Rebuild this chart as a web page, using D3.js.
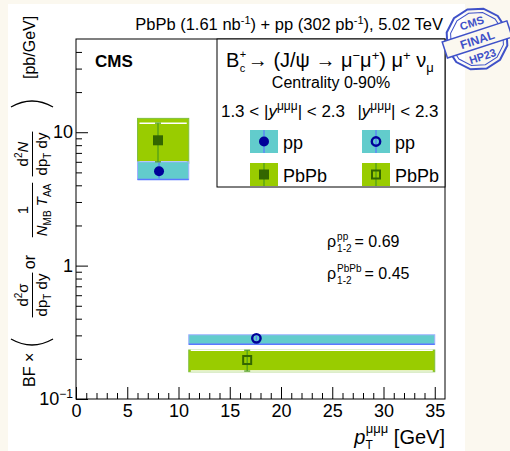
<!DOCTYPE html>
<html lang="en">
<head>
<meta charset="UTF-8"/>
<title>Bc cross section vs pT</title>
<script src="https://d3js.org/d3.v7.min.js"></script>
<style>
    body { margin: 0; background: #fbf8ef; }
    text { font-family: "Liberation Sans", Arial, Helvetica, sans-serif; fill: #000; }
</style>
</head>
<body>
<div id="chart"></div>
<script>
// data
const binLo = [6, 11];
const binHi = [11, 35];

const ppX = [8.1, 17.6];
const ppY = [5.1, 0.285];
const ppStatLo = [4.5, 0.275];
const ppStatHi = [5.9, 0.295];
const ppSysLo = [4.43, 0.257];
const ppSysHi = [6.0, 0.303];

const pbX = [8.0, 16.7];
const pbY = [8.7, 0.196];
const pbStatLo = [6.0, 0.162];
const pbStatHi = [11.7, 0.232];
const pbSysLo = [5.85, 0.160];
const pbSysHi = [12.7, 0.233];

const xTicks = [0, 5, 10, 15, 20, 25, 30, 35];
const yTicks = [0.1, 1, 10];
const rhoLabels = [["pp", "0.69"], ["PbPb", "0.45"]];

const W = 510, H = 451;
const frame = {left: 76, right: 445, top: 39, bottom: 399};

const cyan = "#62cccc", green = "#99cc00", navy = "#000099", dkGreen = "#336600";
const blueLine = "#5a78ff";

const svg = d3.select("#chart").append("svg")
    .attr("width", W).attr("height", H);

svg.append("rect").attr("width", W).attr("height", H).attr("fill", "#fbf8ef");
svg.append("rect").attr("x", 8).attr("y", 4).attr("width", 457).attr("height", H - 4).attr("fill", "#fff");

const x = d3.scaleLinear().domain([0, 36]).range([frame.left, frame.right]);
const y = d3.scaleLog().domain([0.1, 50]).range([frame.bottom, frame.top]);

// axes, ticks pointing inward like ROOT
const xMinor = d3.range(0, 36).filter(v => v % 5 !== 0);
svg.append("g")
    .attr("transform", "translate(0," + frame.bottom + ")")
    .call(d3.axisBottom(x).tickValues(xMinor).tickSize(-6).tickFormat(""))
    .call(g => g.select(".domain").remove());
const xAxis = svg.append("g")
    .attr("transform", "translate(0," + frame.bottom + ")")
    .call(d3.axisBottom(x).tickValues(xTicks).tickSize(-12).tickPadding(5));
xAxis.select(".domain").remove();
xAxis.selectAll("text").style("font-size", "18px");

const yMinor = [];
[0.1, 1, 10].forEach(d => { for (let k = 2; k <= 9; k++) if (d * k < 50) yMinor.push(d * k); });
svg.append("g")
    .attr("transform", "translate(" + frame.left + ",0)")
    .call(d3.axisLeft(y).tickValues(yMinor).tickSize(-6).tickFormat(""))
    .call(g => g.select(".domain").remove());
const yAxis = svg.append("g")
    .attr("transform", "translate(" + frame.left + ",0)")
    .call(d3.axisLeft(y).tickValues(yTicks).tickSize(-12).tickPadding(3).tickFormat(""));
yAxis.select(".domain").remove();
yAxis.selectAll(".tick text").each(function(d) {
    const t = d3.select(this).style("font-size", "18px");
    if (d < 1) {
        t.append("tspan").text("10");
        t.append("tspan").text("−1").attr("dy", -7).style("font-size", "12px");
    } else {
        t.text(d3.format("d")(d));
    }
});

svg.append("rect")
    .attr("x", frame.left).attr("y", frame.top)
    .attr("width", frame.right - frame.left).attr("height", frame.bottom - frame.top)
    .attr("fill", "none").attr("stroke", "#000");

// systematic boxes
const plot = svg.append("g");
binLo.forEach((lo, i) => {
    plot.append("rect")
        .attr("x", x(lo)).attr("y", y(pbSysHi[i]))
        .attr("width", x(binHi[i]) - x(lo)).attr("height", y(pbSysLo[i]) - y(pbSysHi[i]))
        .attr("fill", green).attr("stroke", "#7fbf3f").attr("stroke-width", 1);
    [pbStatLo[i], pbStatHi[i]].forEach(v => {
        plot.append("line")
            .attr("x1", x(lo) + 2).attr("x2", x(binHi[i]) - 2)
            .attr("y1", y(v)).attr("y2", y(v))
            .attr("stroke", "#fff").attr("stroke-width", 1.5);
    });
    plot.append("rect")
        .attr("x", x(lo)).attr("y", y(ppSysHi[i]))
        .attr("width", x(binHi[i]) - x(lo)).attr("height", y(ppSysLo[i]) - y(ppSysHi[i]))
        .attr("fill", cyan).attr("stroke", "#9fb0ff").attr("stroke-width", 1);
    plot.append("line")
        .attr("x1", x(lo)).attr("x2", x(binHi[i]))
        .attr("y1", y(ppSysLo[i])).attr("y2", y(ppSysLo[i]))
        .attr("stroke", blueLine).attr("stroke-width", 1.5);
});

// stat error bars and markers
ppX.forEach((px, i) => {
    plot.append("line")
        .attr("x1", x(px)).attr("x2", x(px))
        .attr("y1", y(ppStatLo[i])).attr("y2", y(ppStatHi[i]))
        .attr("stroke", blueLine).attr("stroke-width", 1.2);
});
pbX.forEach((px, i) => {
    plot.append("line")
        .attr("x1", x(px)).attr("x2", x(px))
        .attr("y1", y(pbStatLo[i])).attr("y2", y(pbStatHi[i]))
        .attr("stroke", "#4a9a1a").attr("stroke-width", 1.2);
    [pbStatLo[i], pbStatHi[i]].forEach(v => {
        plot.append("line")
            .attr("x1", x(px) - 3).attr("x2", x(px) + 3)
            .attr("y1", y(v)).attr("y2", y(v))
            .attr("stroke", "#4a9a1a").attr("stroke-width", 1.2);
    });
});

function marker(g, cx, cy, kind) {
    if (kind === "circleFilled")
        g.append("circle").attr("cx", cx).attr("cy", cy).attr("r", 5).attr("fill", navy);
    else if (kind === "circleOpen")
        g.append("circle").attr("cx", cx).attr("cy", cy).attr("r", 4.2)
            .attr("fill", "none").attr("stroke", navy).attr("stroke-width", 2.4);
    else if (kind === "squareFilled")
        g.append("rect").attr("x", cx - 5).attr("y", cy - 5).attr("width", 10).attr("height", 10).attr("fill", dkGreen);
    else
        g.append("rect").attr("x", cx - 4).attr("y", cy - 4).attr("width", 8).attr("height", 8)
            .attr("fill", "none").attr("stroke", dkGreen).attr("stroke-width", 2);
}
marker(plot, x(pbX[0]), y(pbY[0]), "squareFilled");
marker(plot, x(pbX[1]), y(pbY[1]), "squareOpen");
marker(plot, x(ppX[0]), y(ppY[0]), "circleFilled");
marker(plot, x(ppX[1]), y(ppY[1]), "circleOpen");

// CMS label
svg.append("text").attr("x", 95).attr("y", 67).text("CMS")
    .style("font-size", "17px").style("font-weight", "bold");

// header
const head = svg.append("text").attr("x", 443).attr("y", 30).attr("text-anchor", "end").style("font-size", "16.5px");
head.append("tspan").text("PbPb (1.61 nb");
head.append("tspan").text("-1").attr("dy", -6).style("font-size", "11px");
head.append("tspan").text(") + pp (302 pb").attr("dy", 6);
head.append("tspan").text("-1").attr("dy", -6).style("font-size", "11px");
head.append("tspan").text("), 5.02 TeV").attr("dy", 6);

// legend box
const leg = svg.append("g");
leg.append("rect").attr("x", 217).attr("y", frame.top).attr("width", frame.right - 217).attr("height", 148)
    .attr("fill", "#fff").attr("stroke", "#000");

// decay formula: B with stacked c / + drawn as separate texts
const decX = 226, decY = 67;
const bTxt = leg.append("text").attr("x", decX).attr("y", decY).style("font-size", "20px").text("B");
const bx = decX + bTxt.node().getComputedTextLength() + 0.5;
leg.append("text").attr("x", bx).attr("y", decY - 9).style("font-size", "11px").text("+");
leg.append("text").attr("x", bx).attr("y", decY + 5).style("font-size", "11px").text("c");
const dec = leg.append("text").attr("x", bx + 8).attr("y", decY).style("font-size", "20px");
dec.append("tspan").text(" → (J/ψ → μ");
dec.append("tspan").text("−").attr("dy", -7).style("font-size", "13px");
dec.append("tspan").text("μ").attr("dy", 7);
dec.append("tspan").text("+").attr("dy", -7).style("font-size", "13px");
dec.append("tspan").text(") μ").attr("dy", 7);
dec.append("tspan").text("+").attr("dy", -7).style("font-size", "13px");
dec.append("tspan").text(" ν").attr("dy", 7);
dec.append("tspan").text("μ").attr("dy", 5).style("font-size", "13px");

leg.append("text").attr("x", 331).attr("y", 88).attr("text-anchor", "middle")
    .style("font-size", "16px").text("Centrality 0-90%");

function rapidity(g, cx, prefix) {
    const t = g.append("text").attr("x", cx).attr("y", 117).attr("text-anchor", "middle").style("font-size", "17px");
    t.append("tspan").text(prefix + "|");
    t.append("tspan").text("y").style("font-style", "italic");
    t.append("tspan").text("μμμ").attr("dy", -7).style("font-size", "12px");
    t.append("tspan").text("| < 2.3").attr("dy", 7);
}
rapidity(leg, 283, "1.3 < ");
rapidity(leg, 398, "");

const legendRows = [
    {label: "pp", fill: cyan, y0: 130, kinds: ["circleFilled", "circleOpen"], line: blueLine},
    {label: "PbPb", fill: green, y0: 163, kinds: ["squareFilled", "squareOpen"], line: "#4a9a1a"}
];
const legendCols = [250, 362];
legendRows.forEach(row => {
    legendCols.forEach((cx, j) => {
        leg.append("rect").attr("x", cx).attr("y", row.y0).attr("width", 28).attr("height", 23).attr("fill", row.fill);
        leg.append("line").attr("x1", cx + 14).attr("x2", cx + 14).attr("y1", row.y0).attr("y2", row.y0 + 23)
            .attr("stroke", row.line).attr("stroke-width", 1.2);
        marker(leg, cx + 14, row.y0 + 11.5, row.kinds[j]);
        leg.append("text").attr("x", cx + 33).attr("y", row.y0 + 18.5).style("font-size", "18px").text(row.label);
    });
});

// correlation coefficients
rhoLabels.forEach((r, i) => {
    const x0 = 327, base = 247 + i * 32;
    const rho = svg.append("text").attr("x", x0).attr("y", base).style("font-size", "16px").text("ρ");
    const xs = x0 + rho.node().getComputedTextLength() + 1;
    const sup = svg.append("text").attr("x", xs).attr("y", base - 7).style("font-size", "10px").text(r[0]);
    const sub = svg.append("text").attr("x", xs).attr("y", base + 5).style("font-size", "10px").text("1-2");
    const w = Math.max(sup.node().getComputedTextLength(), sub.node().getComputedTextLength());
    svg.append("text").attr("x", xs + w + 3).attr("y", base).style("font-size", "16px").text("= " + r[1]);
});

// x title
const xt = svg.append("text").attr("x", 445).attr("y", 444).attr("text-anchor", "end").style("font-size", "20px");
xt.append("tspan").text("p").style("font-style", "italic");
xt.append("tspan").text("T").attr("dy", 5).style("font-size", "12px");
xt.append("tspan").text("μμμ").attr("dx", -7).attr("dy", -16).style("font-size", "13px");
xt.append("tspan").text(" [GeV]").attr("dy", 11);

// y title, drawn in a rotated frame (u = up from axis bottom, v = screen x)
const yt = svg.append("g").attr("transform", "translate(0," + frame.bottom + ") rotate(-90)");
yt.append("text").attr("x", 12).attr("y", 35).style("font-size", "16px").text("BF ×");

function paren(u, open) {
    const s = open ? 1 : -1;
    yt.append("path")
        .attr("d", "M" + (u + 6 * s) + ",11 Q" + (u - 6 * s) + ",32 " + (u + 6 * s) + ",53")
        .attr("fill", "none").attr("stroke", "#000").attr("stroke-width", 1.3);
}
paren(54, true);
paren(298, false);

function fraction(uc, num, den) {
    const n = yt.append("text").attr("x", uc).attr("y", 28).attr("text-anchor", "middle").style("font-size", "15px");
    num(n);
    const d = yt.append("text").attr("x", uc).attr("y", 47).attr("text-anchor", "middle").style("font-size", "15px");
    den(d);
    const w = Math.max(n.node().getComputedTextLength(), d.node().getComputedTextLength()) + 2;
    yt.append("line").attr("x1", uc - w / 2).attr("x2", uc + w / 2).attr("y1", 32.5).attr("y2", 32.5)
        .attr("stroke", "#000").attr("stroke-width", 1);
}
const dpdy = d => {
    d.append("tspan").text("dp");
    d.append("tspan").text("T").attr("dy", 4).style("font-size", "10px");
    d.append("tspan").text(" dy").attr("dy", -4);
};
fraction(104, n => {
    n.append("tspan").text("d");
    n.append("tspan").text("2").attr("dy", -6).style("font-size", "10px");
    n.append("tspan").text("σ").attr("dy", 6);
}, dpdy);
yt.append("text").attr("x", 137).attr("y", 35).attr("text-anchor", "middle").style("font-size", "16px").text("or");
fraction(189, n => n.text("1"), d => {
    d.append("tspan").text("N").style("font-style", "italic");
    d.append("tspan").text("MB").attr("dy", 4).style("font-size", "10px");
    d.append("tspan").text(" T").attr("dy", -4).style("font-style", "italic");
    d.append("tspan").text("AA").attr("dy", 4).style("font-size", "10px");
});
fraction(245, n => {
    n.append("tspan").text("d");
    n.append("tspan").text("2").attr("dy", -6).style("font-size", "10px");
    n.append("tspan").text("N").attr("dy", 6).style("font-style", "italic");
}, dpdy);
yt.append("text").attr("x", 320).attr("y", 35).style("font-size", "16px").text("[pb/GeV]");

// approval stamp
const stamp = svg.append("g").attr("transform", "translate(477,39) rotate(-18)");
const stampBlue = "#3f51c8";
const ring = r => d3.range(12).map(k => [r * Math.cos(k * Math.PI / 6), r * Math.sin(k * Math.PI / 6)]);
stamp.append("polygon").attr("points", ring(31).join(" ")).attr("fill", "none").attr("stroke", stampBlue).attr("stroke-width", 2);
stamp.append("polygon").attr("points", ring(27).join(" ")).attr("fill", "none").attr("stroke", stampBlue).attr("stroke-width", 1);
stamp.append("rect").attr("x", -34).attr("y", -8).attr("width", 68).attr("height", 17)
    .attr("fill", "#fbf8ef").attr("stroke", stampBlue).attr("stroke-width", 1.5);
stamp.append("text").attr("y", 5).attr("text-anchor", "middle").style("font-size", "12px")
    .style("font-weight", "bold").style("fill", stampBlue).text("FINAL");
stamp.append("text").attr("y", -13).attr("text-anchor", "middle").style("font-size", "11px")
    .style("font-weight", "bold").style("fill", stampBlue).text("CMS");
stamp.append("text").attr("y", 22).attr("text-anchor", "middle").style("font-size", "11px")
    .style("font-weight", "bold").style("fill", stampBlue).text("HP23");
</script>
</body>
</html>
